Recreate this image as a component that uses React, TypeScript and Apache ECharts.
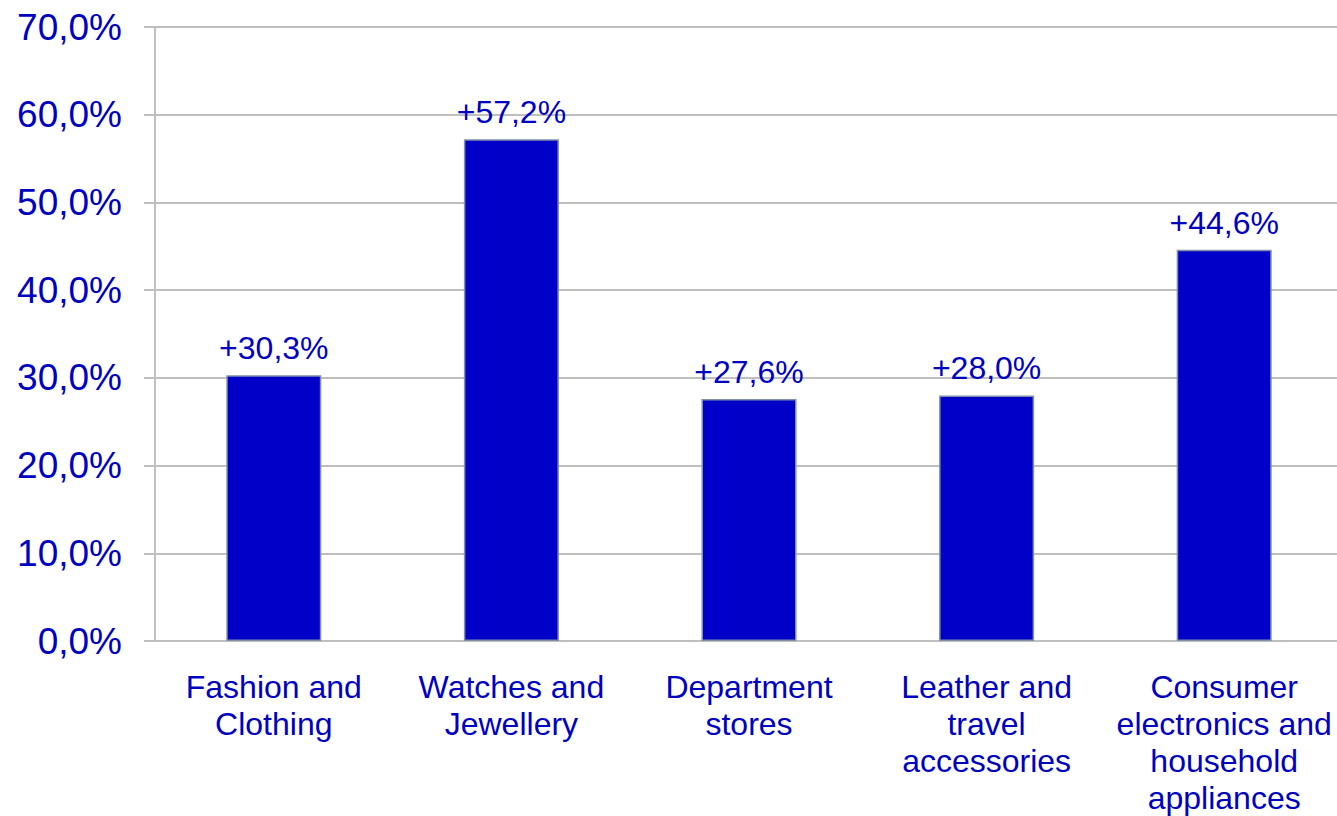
import React, { useEffect, useRef } from "react";
import * as echarts from "echarts";

const categories = [
  "Fashion and\nClothing",
  "Watches and\nJewellery",
  "Department\nstores",
  "Leather and\ntravel\naccessories",
  "Consumer\nelectronics and\nhousehold\nappliances",
];
const growth = [30.3, 57.2, 27.6, 28.0, 44.6];
const yMin = 0;
const yMax = 70;
const yStep = 10;

const BLUE = "#0000C8";
const TEXT = "#0000C0";
const FONT = "'Liberation Sans', Arial, sans-serif";

export default function App() {
  const ref = useRef<HTMLDivElement>(null);
  useEffect(() => {
    if (!ref.current) return;
    const chart = echarts.init(ref.current, undefined, { renderer: "svg" });
    chart.setOption({
      animation: false,
      backgroundColor: "#ffffff",
      grid: { left: 155, top: 27, bottom: 174, right: 0, containLabel: false },
      xAxis: {
        type: "category",
        data: categories,
        axisLine: { show: true, lineStyle: { color: "#BFBFBF", width: 2 } },
        axisTick: { show: false },
        axisLabel: {
          color: TEXT,
          fontFamily: FONT,
          fontSize: 32,
          lineHeight: 37,
          margin: 27,
          interval: 0,
        },
      },
      yAxis: {
        type: "value",
        min: yMin,
        max: yMax,
        interval: yStep,
        axisLine: { show: true, lineStyle: { color: "#BFBFBF", width: 2 } },
        axisTick: { show: true, length: 11, lineStyle: { color: "#BFBFBF", width: 2 } },
        splitLine: { show: true, lineStyle: { color: "#BFBFBF", width: 2 } },
        axisLabel: {
          color: TEXT,
          fontFamily: FONT,
          fontSize: 37,
          margin: 33,
          formatter: (v: number) => v.toFixed(1).replace(".", ",") + "%",
        },
      },
      series: [
        {
          type: "bar",
          data: growth,
          barWidth: "40%",
          itemStyle: { color: BLUE, borderColor: "#8090A8", borderWidth: 1.5 },
          label: {
            show: true,
            position: "top",
            distance: 11,
            color: TEXT,
            fontFamily: FONT,
            fontSize: 32,
            formatter: (p: any) => "+" + Number(p.value).toFixed(1).replace(".", ",") + "%",
          },
        },
      ],
    });
    return () => chart.dispose();
  }, []);
  return (
    <div
      style={{ position: "fixed", left: 0, top: 0, width: 1337, height: 816, overflow: "hidden", background: "#fff" }}
    >
      <div ref={ref} style={{ width: 1343, height: 816 }} />
    </div>
  );
}
